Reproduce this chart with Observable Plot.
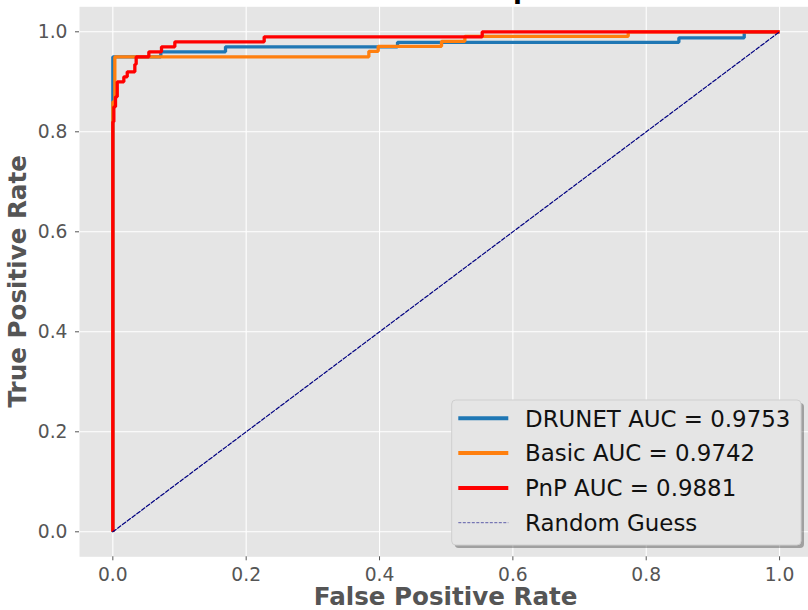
<!DOCTYPE html>
<html>
<head>
<meta charset="utf-8">
<script src="https://cdn.jsdelivr.net/npm/d3@7"></script>
<script src="https://cdn.jsdelivr.net/npm/@observablehq/plot@0.6"></script>
<style>
  html, body { margin: 0; padding: 0; background: #ffffff; overflow: hidden; }
  #chart { position: relative; width: 808px; height: 610px; }
</style>
</head>
<body>
<div id="chart"></div>
<script>
// ---- data ----
const titleText = "ROC Curve Comparison";
const xLabel = "False Positive Rate";
const yLabel = "True Positive Rate";
const tickValues = [0, 0.2, 0.4, 0.6, 0.8, 1.0];

const fprDRUNET = [0, 0, 0.072, 0.072, 0.169, 0.169, 0.427, 0.427, 0.849, 0.849, 0.947, 0.947, 1];
const tprDRUNET = [0, 0.95, 0.95, 0.96, 0.96, 0.97, 0.97, 0.979, 0.979, 0.988, 0.988, 1, 1];

const fprBasic = [0, 0, 0.003, 0.003, 0.384, 0.384, 0.398, 0.398, 0.493, 0.493, 0.528, 0.528, 0.773, 0.773, 1];
const tprBasic = [0, 0.86, 0.86, 0.95, 0.95, 0.961, 0.961, 0.971, 0.971, 0.981, 0.981, 0.991, 0.991, 1, 1];

const fprPnP = [0, 0, 0.0015, 0.0015, 0.004, 0.004, 0.0066, 0.0066, 0.0165, 0.0165, 0.0216, 0.0216, 0.033, 0.033, 0.035, 0.035, 0.054, 0.054, 0.073, 0.073, 0.093, 0.093, 0.227, 0.227, 0.554, 0.554, 1];
const tprPnP = [0, 0.82, 0.82, 0.85, 0.85, 0.87, 0.87, 0.90, 0.90, 0.91, 0.91, 0.92, 0.92, 0.935, 0.935, 0.95, 0.95, 0.96, 0.96, 0.97, 0.97, 0.98, 0.98, 0.99, 0.99, 1, 1];

const randX = [0, 1];
const randY = [0, 1];

const seriesNames = ["DRUNET AUC = 0.9753", "Basic AUC = 0.9742", "PnP AUC = 0.9881", "Random Guess"];
const seriesColors = ["#1f77b4", "#ff7f0e", "#ff0000", "#000080"];

// ---- build ----
const toRows = (xs, ys) => xs.map((x, i) => ({x, y: ys[i]}));
const curves = [toRows(fprDRUNET, tprDRUNET), toRows(fprBasic, tprBasic), toRows(fprPnP, tprPnP)];
const diag = toRows(randX, randY);

const FONT = "DejaVu Sans";
const svg = Plot.plot({
  width: 808,
  height: 610,
  marginLeft: 79,
  marginRight: 0,
  marginTop: 6.3,
  marginBottom: 53.7,
  x: {domain: [-0.05, 1.0434]},
  y: {domain: [-0.05, 1.05]},
  style: {fontFamily: FONT, background: "#ffffff", overflow: "visible"},
  marks: [
    Plot.frame({fill: "#e5e5e5", stroke: null}),
    Plot.gridX(tickValues, {stroke: "#ffffff", strokeOpacity: 1, strokeWidth: 1.1}),
    Plot.gridY(tickValues, {stroke: "#ffffff", strokeOpacity: 1, strokeWidth: 1.1}),
    Plot.axisX(tickValues, {tickFormat: d3.format(".1f"), tickSize: 4, tickPadding: 7, fontSize: 18.7, color: "#555555", label: null}),
    Plot.axisY(tickValues, {tickFormat: d3.format(".1f"), tickSize: 4, tickPadding: 8, fontSize: 18.7, color: "#555555", label: null}),
    ...curves.map((c, i) => Plot.line(c, {x: "x", y: "y", stroke: seriesColors[i], strokeWidth: 3.3, strokeLinejoin: "miter", strokeLinecap: "butt"})),
    Plot.line(diag, {x: "x", y: "y", stroke: seriesColors[3], strokeWidth: 1.2, strokeDasharray: "4,2"})
  ]
});
document.getElementById("chart").appendChild(svg);

// ---- annotations: title, axis labels, legend ----
const s = d3.select(svg);
const cx = (79 + 812.3) / 2; // axes centre (axes extend past the cropped right edge)

s.append("text")
  .attr("x", cx).attr("y", 605)
  .attr("text-anchor", "middle")
  .attr("font-family", FONT).attr("font-weight", "bold").attr("font-size", 24.6)
  .attr("fill", "#555555")
  .text(xLabel);

s.append("text")
  .attr("transform", `translate(26,${(6.3 + 556.3) / 2}) rotate(-90)`)
  .attr("text-anchor", "middle")
  .attr("font-family", FONT).attr("font-weight", "bold").attr("font-size", 24.6)
  .attr("fill", "#555555")
  .text(yLabel);

// title (mostly above the visible page, as in the reference)
const t = s.append("text")
  .attr("y", -2.5)
  .attr("text-anchor", "start")
  .attr("font-family", FONT).attr("font-weight", "bold").attr("font-size", 26)
  .attr("fill", "#000000")
  .text(titleText);
const pIdx = titleText.indexOf("p");
let pre = 0;
try { pre = t.node().getSubStringLength(0, pIdx); } catch (e) { pre = 230; }
t.attr("x", 513 - pre);

// legend
const lg = s.append("g");
const bx = 451.7, by = 400, bw = 349.3, bh = 145;
lg.append("rect").attr("x", bx + 3).attr("y", by + 3).attr("width", bw).attr("height", bh)
  .attr("rx", 4).attr("fill", "#000000").attr("fill-opacity", 0.3);
lg.append("rect").attr("x", bx).attr("y", by).attr("width", bw).attr("height", bh)
  .attr("rx", 4).attr("fill", "#e5e5e5").attr("stroke", "#cfcfcf").attr("stroke-width", 1);
seriesNames.forEach((name, i) => {
  const yy = 418.3 + i * 34.8;
  lg.append("line").attr("x1", 458.3).attr("x2", 508.3).attr("y1", yy).attr("y2", yy)
    .attr("stroke", seriesColors[i])
    .attr("stroke-width", i < 3 ? 4 : 1)
    .attr("stroke-opacity", i < 3 ? 1 : 0.6)
    .attr("stroke-dasharray", i < 3 ? null : "3,1.5");
  lg.append("text").attr("x", 525).attr("y", yy).attr("dy", "0.36em")
    .attr("text-anchor", "start")
    .attr("font-family", FONT).attr("font-size", 22.9).attr("fill", "#111111")
    .text(name);
});
</script>
</body>
</html>
